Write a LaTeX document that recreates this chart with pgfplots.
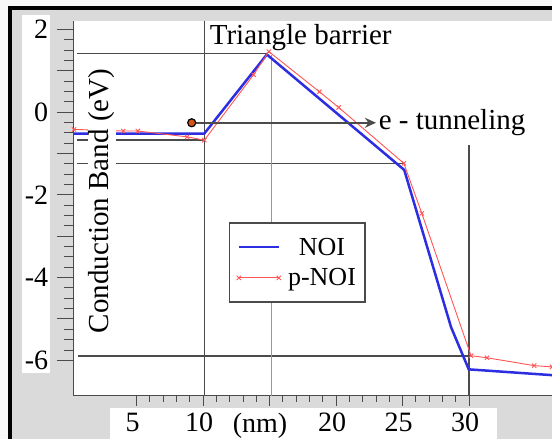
\documentclass[border=0pt]{standalone}
\usepackage{pgfplots}
\pgfplotsset{compat=1.18}
\usepackage{fontspec}
\setmainfont{Liberation Serif}
\usetikzlibrary{arrows.meta}
\definecolor{bgray}{RGB}{218,218,218}
\definecolor{offw}{RGB}{248,248,248}
\definecolor{lgray}{RGB}{75,75,75}
\definecolor{nblue}{RGB}{45,45,225}
\definecolor{pred}{RGB}{255,85,85}
\definecolor{vblue}{RGB}{140,140,235}
\definecolor{dotor}{RGB}{215,85,20}
\begin{document}
\begin{tikzpicture}
\path[use as bounding box] (0pt,0pt) rectangle (552pt,439pt);
% frame of the screenshot (drawn past the page edge on purpose)
\fill[offw] (-20pt,-20pt) rectangle (572pt,459pt);
\fill[bgray] (10pt,-20pt) rectangle (572pt,431pt);
\fill[black] (8pt,-20pt) rectangle (12pt,433pt);
\fill[black] (8pt,429pt) rectangle (572pt,433pt);
\fill[white] (74pt,43pt) rectangle (572pt,418pt);
\fill[white] (22pt,66pt) rectangle (50pt,424pt);
\fill[white] (110pt,-20pt) rectangle (497pt,31pt);
\begin{axis}[
  at={(74pt,43pt)}, anchor=south west,
  scale only axis, width=478pt, height=375pt,
  xmin=0.3, xmax=36.24, ymin=-6.864, ymax=2.2,
  axis lines*=left,
  axis line style={lgray, line width=1pt},
  tick align=outside,
  xtick={5,10,15,20,25,30},
  xticklabels={5,10,\hspace*{-11pt}(nm),20,25,30},
  minor x tick num=4,
  ytick={-6,-5,...,2},
  yticklabels={-6,,-4,,-2,,0,,2},
  minor y tick num=3,
  xtick style={/pgfplots/major tick length=10pt,/pgfplots/minor tick length=6pt,lgray,line width=0.8pt},
  ytick style={/pgfplots/major tick length=17pt,/pgfplots/minor tick length=10pt,lgray,line width=0.8pt},
  tick label style={font=\fontsize{28}{30}\selectfont},
  xticklabel style={xshift=-4pt, yshift=-9pt},
  yticklabel style={xshift=-18pt},
  legend style={at={(axis cs:11.95,-2.66)}, anchor=north west, draw=lgray, line width=1.5pt,
    fill=white, font=\fontsize{26}{28}\selectfont, inner xsep=7pt, inner ysep=13pt, row sep=8pt},
  legend cell align=center,
  legend image code/.code={\draw[mark repeat=1,#1] plot coordinates {(0pt,0pt) (40pt,0pt)};\path (46pt,0pt);},
]
% guide lines
\draw[lgray, line width=1.5pt] (axis cs:0.5,1.42) -- (axis cs:14.8,1.42);
\draw[lgray, line width=1.5pt] (axis cs:0.5,-0.677) -- (axis cs:10.1,-0.677);
\draw[lgray, line width=1.5pt] (axis cs:0.5,-1.24) -- (axis cs:25.1,-1.24);
\draw[lgray, line width=1.5pt] (axis cs:0.6,-5.9) -- (axis cs:30,-5.9);
\draw[lgray, line width=1.5pt] (axis cs:10.12,2.2) -- (axis cs:10.12,-6.864);
\draw[lgray, line width=1.5pt] (axis cs:30,-0.8) -- (axis cs:30,-6.864);
\draw[vblue, line width=1pt] (axis cs:15.15,1.38) -- (axis cs:15.15,-6.864);

\addplot[nblue, line width=2.5pt, mark=none] coordinates {
  (0.3,-0.52) (10.1,-0.52) (14.8,1.39) (25.13,-1.40) (28.65,-5.2) (29.98,-6.22) (36.24,-6.36)
};
\addlegendentry{NOI}
\addplot[pred, line width=0.9pt, mark=x, mark size=3pt, mark options={line width=0.9pt}] coordinates {
  (0.3,-0.42) (4.0,-0.46) (5.1,-0.46) (8.8,-0.6) (10.1,-0.68) (13.8,0.9) (14.95,1.46)
  (18.75,0.49) (20.2,0.11) (25.1,-1.24) (26.45,-2.45) (30.15,-5.89) (31.35,-5.94)
  (34.9,-6.13) (36.24,-6.16)
};
\addlegendentry{p-NOI}

% annotation
\draw[lgray, line width=2pt, -{Stealth[length=11pt,width=10pt]}] (axis cs:9.15,-0.26) -- (axis cs:23.0,-0.26);
\addplot[only marks, mark=*, mark size=4pt, mark options={fill=dotor, draw=black, line width=1.2pt}, forget plot] coordinates {(9.15,-0.26)};
\node[anchor=west, inner sep=0pt, font=\fontsize{29}{32}\selectfont] at (axis cs:23.2,-0.26) {e - tunneling};
\node[anchor=west, inner sep=0pt, font=\fontsize{29}{32}\selectfont] at (axis cs:10.5,1.81) {Triangle barrier};
\node[rotate=90, fill=white, inner sep=1pt, font=\fontsize{29}{32}\selectfont] at (axis cs:2.4,-2.15) {Conduction Band (eV)};
\end{axis}
\end{tikzpicture}
\end{document}
